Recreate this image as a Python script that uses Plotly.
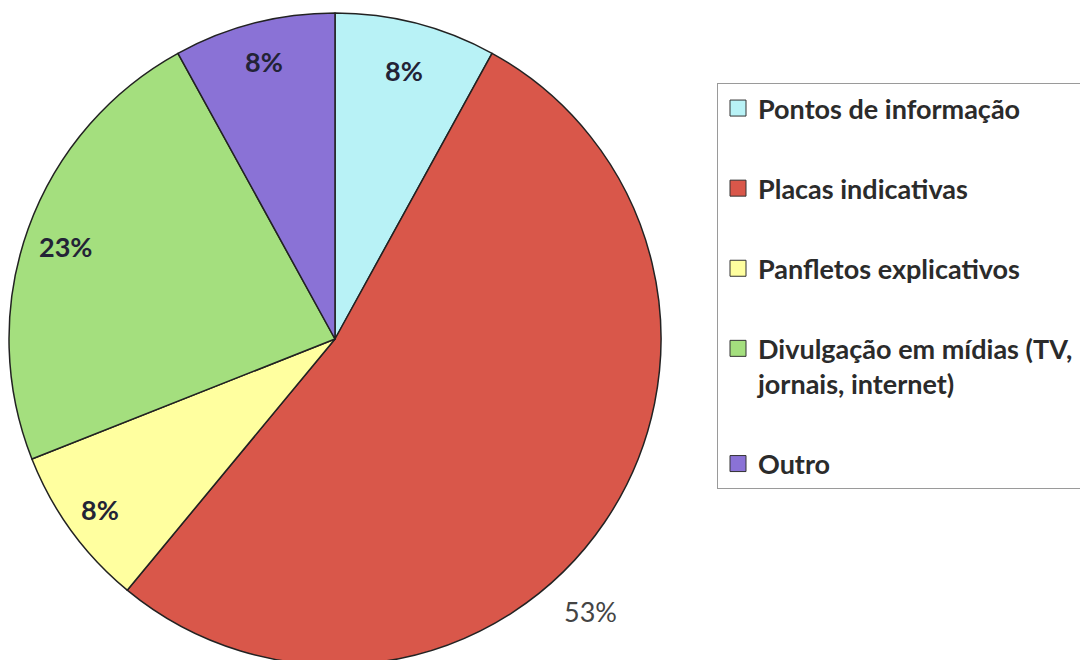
import math
import plotly.graph_objects as go

# ---- data ----
categories = [
    "Pontos de informação",
    "Placas indicativas",
    "Panfletos explicativos",
    "Divulgação em mídias (TV,<br>jornais, internet)",
    "Outro",
]
values = [8, 53, 8, 23, 8]
colors = ["#b8f2f6", "#d9574a", "#ffff9f", "#a4df7e", "#8a72d6"]

# ---- styling (figure pixel coordinates) ----
W, H = 1088, 660
M_T, M_B = 5, 3
pie_px_x = (1, 653)
label_radius = [0.85, 1.15, 0.89, 0.87, 0.88]
label_nudge = [(0, 0), (-55, 62), (0, 0), (-3, 4), (0, 0)]
label_bold = [True, False, True, True, True]
label_color = ["#232336", "#444444", "#232336", "#232336", "#232336"]

fig = go.Figure()
fig.add_trace(go.Pie(
    labels=categories,
    values=values,
    marker=dict(colors=colors, line=dict(color="#222222", width=1.5)),
    sort=False,
    direction="clockwise",
    rotation=0,
    textinfo="none",
    showlegend=False,
    domain=dict(x=[pie_px_x[0] / W, pie_px_x[1] / W], y=[0, 1]),
    hoverinfo="label+percent",
))

# legend entries (one per slice)
for cat, col in zip(categories, colors):
    fig.add_trace(go.Scatter(
        x=[None], y=[None], mode="markers", name=cat, legendgroup=cat,
        marker=dict(symbol="square", size=16, color=col,
                    line=dict(color="#333333", width=1)),
        hoverinfo="skip",
    ))

# percentage labels computed from the data
plot_h = H - M_T - M_B
cx = (pie_px_x[0] + pie_px_x[1]) / 2
cy = M_T + plot_h / 2
R = min(pie_px_x[1] - pie_px_x[0], plot_h) / 2
total = sum(values)
cum = 0
for i, v in enumerate(values):
    mid = (cum + v / 2) / total * 2 * math.pi
    cum += v
    px = cx + label_radius[i] * R * math.sin(mid) + label_nudge[i][0]
    py = cy - label_radius[i] * R * math.cos(mid) + label_nudge[i][1]
    pct = round(v / total * 100)
    txt = f"{pct}%"
    if label_bold[i]:
        txt = f"<b>{txt}</b>"
    fig.add_annotation(
        x=px / W, y=(H - M_B - py) / plot_h, xref="paper", yref="paper",
        text=txt, showarrow=False, xanchor="center", yanchor="middle",
        font=dict(family="Lato", size=27, color=label_color[i]),
    )

fig.update_layout(
    width=W, height=H,
    margin=dict(l=0, r=0, t=M_T, b=M_B),
    paper_bgcolor="white", plot_bgcolor="white",
    xaxis=dict(visible=False), yaxis=dict(visible=False),
    font=dict(family="Lato"),
    legend=dict(
        x=709 / W, xanchor="left",
        y=(H - M_B - 75) / plot_h, yanchor="top",
        bordercolor="#9a9a9a", borderwidth=1, bgcolor="white",
        font=dict(family="Lato", size=27, color="#2b2b2b", weight="bold"),
        traceorder="grouped", tracegroupgap=42, valign="top",
        itemwidth=30, entrywidth=380, entrywidthmode="pixels",
    ),
)

fig.write_html("out.html")
